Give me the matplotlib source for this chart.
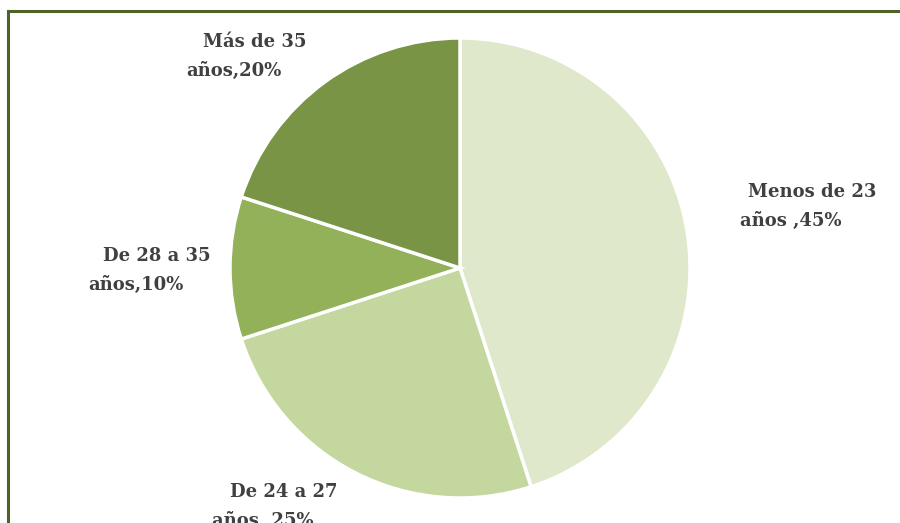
import matplotlib.pyplot as plt
from matplotlib.patches import Rectangle

labels = ['Menos de 23\naños ,45%', 'De 24 a 27\naños ,25%', 'De 28 a 35\naños,10%', 'Más de 35\naños,20%']
values = [45, 25, 10, 20]
colors = ['#DFE8CA', '#C4D79F', '#92B158', '#7A9446']
# label anchor (first line centre), in pixels from top-left
label_pos = [(812, 192), (284, 492), (157, 256), (255, 42)]

W, H = 900, 523
fig = plt.figure(figsize=(9, 5.23), dpi=100)
ax = fig.add_axes([0, 0, 1, 1])
ax.set_xlim(0, W)
ax.set_ylim(0, H)
ax.axis('off')

ax.pie(values, colors=colors, startangle=90, counterclock=False,
       center=(460, H - 268), radius=230, frame=True,
       wedgeprops=dict(edgecolor='white', linewidth=2.5))
ax.set_xlim(0, W)
ax.set_ylim(0, H)
ax.axis('off')

for lab, (x, y) in zip(labels, label_pos):
    l1, l2 = lab.split('\n')
    ax.text(x, H - y, l1, ha='center', va='center', fontsize=13,
            fontweight='bold', family='DejaVu Serif', color='#404040')
    ax.text(x - 21, H - y - 29, l2, ha='center', va='center', fontsize=13,
            fontweight='bold', family='DejaVu Serif', color='#404040')

fig.patches.append(Rectangle((7.5 / W, -0.1), 1.2, (H - 11) / H + 0.1,
                             transform=fig.transFigure, fill=False,
                             edgecolor='#4F6228', linewidth=2.2))

fig.savefig('out.png', dpi=100, facecolor='white')
